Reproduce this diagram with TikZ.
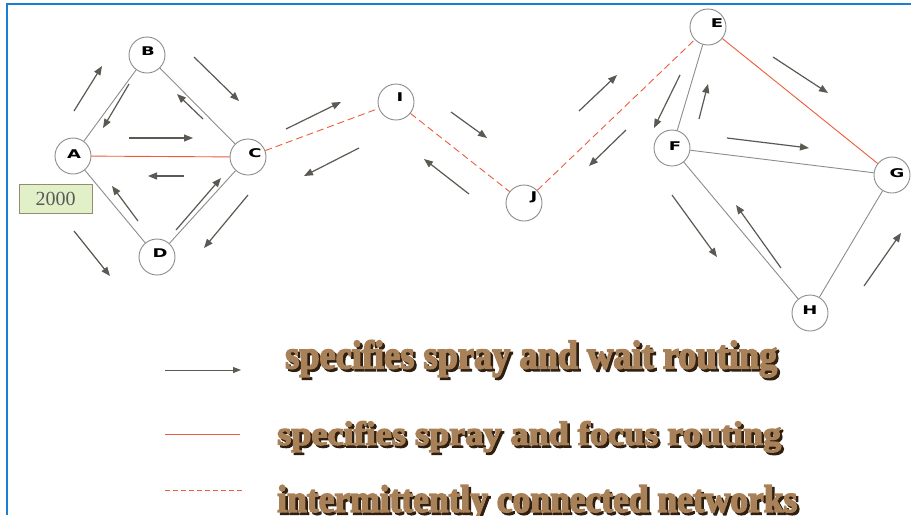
\documentclass[tikz,border=0pt]{standalone}
\usepackage{fontspec}
\usepackage{graphicx}
\usetikzlibrary{arrows.meta}
\setmainfont{Liberation Serif}
\newfontfamily\nodefont{DejaVu Sans Bold}
\newfontfamily\legfont[FakeBold=4]{Liberation Serif Bold}
\definecolor{edgegray}{HTML}{8C8C8C}
\definecolor{arrowgray}{HTML}{5C5852}
\definecolor{linkred}{HTML}{EE5A3C}
\definecolor{framblue}{HTML}{1A7FD4}
\definecolor{boxgreen}{HTML}{E2F0C8}
\definecolor{shadowbrown}{HTML}{2E1F10}
\definecolor{frontbrown}{HTML}{A98158}
\tikzset{
  host/.style={circle, draw=edgegray, fill=white, line width=0.9pt, minimum size=36pt, inner sep=0pt},
  lab/.style={font=\nodefont\fontsize{12}{12}\selectfont, text=black, inner sep=0pt},
  link/.style={draw=edgegray, line width=0.9pt},
  sflink/.style={draw=linkred, line width=0.9pt},
  iclink/.style={draw=linkred, line width=0.9pt, dash pattern=on 7pt off 4pt},
  flow/.style={draw=arrowgray, line width=1.2pt, -{Triangle[length=9pt,width=7pt]}},
}
\newcommand{\wlab}[1]{\scalebox{1.5}[1]{#1}}
\begin{document}
\begin{tikzpicture}[x=1pt,y=-1pt]
\useasboundingbox (0,0) rectangle (911,515);
% frame
\draw[framblue, line width=2pt] (7,515) -- (7,4) -- (911,4);

% hosts
\node[host, label={[lab, xshift=1pt, yshift=4pt]center:\wlab{B}}] (B) at (147,55) {};
\node[host, label={[lab, xshift=1pt, yshift=2pt]center:\wlab{A}}] (A) at (73,156) {};
\node[host, label={[lab, xshift=7pt, yshift=4pt]center:\wlab{C}}] (C) at (248,157) {};
\node[host, label={[lab, xshift=3pt, yshift=4pt]center:\wlab{D}}] (D) at (157,257) {};
\node[host, label={[lab, xshift=4pt, yshift=5pt]center:\wlab{I}}] (I) at (396,102) {};
\node[host, label={[lab, xshift=10pt, yshift=6pt]center:\wlab{J}}] (J) at (524,203) {};
\node[host, label={[lab, xshift=9pt, yshift=4pt]center:\wlab{E}}] (E) at (708,27) {};
\node[host, label={[lab, xshift=3pt, yshift=2pt]center:\wlab{F}}] (F) at (672,148) {};
\node[host, label={[lab, xshift=5pt, yshift=2pt]center:\wlab{G}}] (G) at (892,175) {};
\node[host, label={[lab, xshift=0pt, yshift=3pt]center:\wlab{H}}] (H) at (810,313) {};

% links
\path[link] (A) -- (B);
\path[link] (B) -- (C);
\path[link] (A) -- (D);
\path[link] (D) -- (C);
\path[link] (E) -- (F);
\path[link] (F) -- (G);
\path[link] (F) -- (H);
\path[link] (H) -- (G);
\path[sflink] (A) -- (C);
\path[sflink] (E) -- (G);
\path[iclink] (C) -- (I);
\path[iclink] (I) -- (J);
\path[iclink] (J) -- (E);

% flow arrows
\draw[flow] (74,111) -- (102,66);
\draw[flow] (129,84) -- (103,128);
\draw[flow] (194,57) -- (239,101);
\draw[flow] (203,119) -- (177,94);
\draw[flow] (129,138) -- (193,138);
\draw[flow] (184,176) -- (148,176);
\draw[flow] (138,221) -- (112,186);
\draw[flow] (74,231) -- (110,276);
\draw[flow] (176,230) -- (221,178);
\draw[flow] (248,195) -- (204,248);
\draw[flow] (286,129) -- (341,102);
\draw[flow] (359,148) -- (304,176);
\draw[flow] (451,112) -- (487,138);
\draw[flow] (469,194) -- (424,159);
\draw[flow] (579,111) -- (617,75);
\draw[flow] (626,130) -- (589,166);
\draw[flow] (680,75) -- (654,128);
\draw[flow] (699,119) -- (708,84);
\draw[flow] (773,57) -- (828,93);
\draw[flow] (727,138) -- (809,148);
\draw[flow] (672,195) -- (717,257);
\draw[flow] (781,268) -- (736,205);
\draw[flow] (864,286) -- (901,233);

% 2000 box
\node[draw=gray!80!olive, fill=boxgreen, line width=0.8pt, minimum width=73pt, minimum height=29pt, inner sep=0pt,
      font=\fontsize{20}{20}\selectfont, text=black!65] (box) at (55.5,198.5) {2000};

% legend
\coordinate (l1a) at (165,370); \coordinate (l1b) at (241,370);
\coordinate (l2a) at (165,434); \coordinate (l2b) at (240,434);
\coordinate (l3a) at (165,490); \coordinate (l3b) at (245,490);
\draw[flow, line width=1pt, -{Triangle[length=8pt,width=6pt]}] (l1a) -- (l1b);
\draw[sflink] (l2a) -- (l2b);
\draw[draw=linkred, line width=0.9pt, dash pattern=on 5pt off 3pt] (l3a) -- (l3b);

\foreach \nm/\xx/\yy/\ww/\hh/\tx in {
  t1/285/340/492/37/{specifies spray and wait routing},
  t2/277/421/504/31/{specifies spray and focus routing},
  t3/277/485/520/35/{intermittently connected networks}}{
  \node[anchor=north west, inner sep=0pt, text=shadowbrown] at (\xx+2.5,\yy+2.5)
     {\resizebox*{\ww pt}{\hh pt}{\legfont\tx}};
  \node[anchor=north west, inner sep=0pt, text=frontbrown] (\nm) at (\xx,\yy)
     {\resizebox*{\ww pt}{\hh pt}{\legfont\tx}};
}
\end{tikzpicture}
\end{document}
